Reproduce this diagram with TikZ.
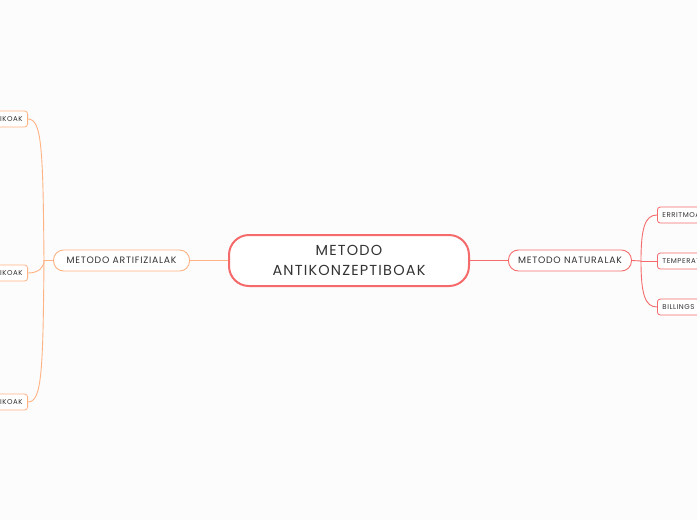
\documentclass[tikz,border=0pt]{standalone}
\usepackage{fontspec}
\setmainfont{Poppins}
\newfontfamily\mapfont[LetterSpace=8]{Poppins}
\usetikzlibrary{positioning}
\definecolor{mapred}{HTML}{F56B6B}
\definecolor{maporange}{HTML}{FFB283}
\definecolor{mapbg}{HTML}{FCFCFC}
\tikzset{
  every picture/.style={font={\mapfont\normalsize}, line cap=round}}

\begin{document}
\begin{tikzpicture}[x=1pt, y=-1pt, node distance=38pt,
    root/.style={draw=mapred, line width=2pt, rounded corners=20pt, fill=white,
      minimum width=240pt, minimum height=51pt, align=center,
      font={\mapfont\fontsize{14.5}{20}\selectfont}, text=black!80},
    branch/.style={draw=#1, line width=0.9pt, rounded corners=10pt, fill=white,
      minimum width=136pt, minimum height=21pt, inner sep=0pt,
      font={\mapfont\fontsize{9.3}{10}\selectfont}, text=black!80},
    leaf/.style={draw=#1, line width=0.8pt, rounded corners=3pt, fill=white,
      minimum height=16pt, inner ysep=0pt, inner xsep=5pt, text width=50pt,
      font={\mapfont\fontsize{7}{8}\selectfont}, text=black!80},
    link/.style={draw=#1, line width=0.9pt}]

    \fill[mapbg] (0,0) rectangle (697,520);
    \useasboundingbox (0,0) rectangle (697,520);
    \clip (0,0) rectangle (697,520);

    \node[root] (C) at (349,260.5) {METODO\\ANTIKONZEPTIBOAK};
    \node[branch=maporange] (NA) [left=of C] {METODO ARTIFIZIALAK};
    \node[branch=mapred] (NN) [right=38pt of C, minimum width=123pt] {METODO NATURALAK};

    % ezkerreko hostoak
    \begin{scope}[leaf/.append style={align=right}]
      \node[leaf=maporange, anchor=east] (LA) at (28,119) {IKOAK};
      \node[leaf=maporange, anchor=east] (LB) at (28,273) {IKOAK};
      \node[leaf=maporange, anchor=east] (LC) at (28,402) {IKOAK};
    \end{scope}

    % eskuineko hostoak
    \begin{scope}[leaf/.append style={align=left}]
      \node[leaf=mapred, anchor=west] (RA) at (657,215) {ERRITMOA};
      \node[leaf=mapred, anchor=west] (RB) at (657,261) {TEMPERAT};
      \node[leaf=mapred, anchor=west] (RC) at (657,307) {BILLINGS};
    \end{scope}

    \coordinate (AJ) at (44,260.5);
    \coordinate (NJ) at (641,261);

    \path[link=maporange] (C.west) -- (NA.east);
    \path[link=mapred] (C.east) -- (NN.west);

    \path[link=maporange] (NA.west) -- (AJ);
    \path[link=maporange] (AJ) .. controls (43,150) and (42,119) .. (LA.east);
    \path[link=maporange] (AJ) .. controls (44,268) and (38,273) .. (LB.east);
    \path[link=maporange] (AJ) .. controls (43,370) and (42,402) .. (LC.east);

    \path[link=mapred] (NN.east) -- (NJ);
    \path[link=mapred] (NJ) .. controls (641,228) and (645,215) .. (RA.west);
    \path[link=mapred] (NJ) -- (RB.west);
    \path[link=mapred] (NJ) .. controls (641,294) and (645,307) .. (RC.west);
  \end{tikzpicture}
\end{document}
